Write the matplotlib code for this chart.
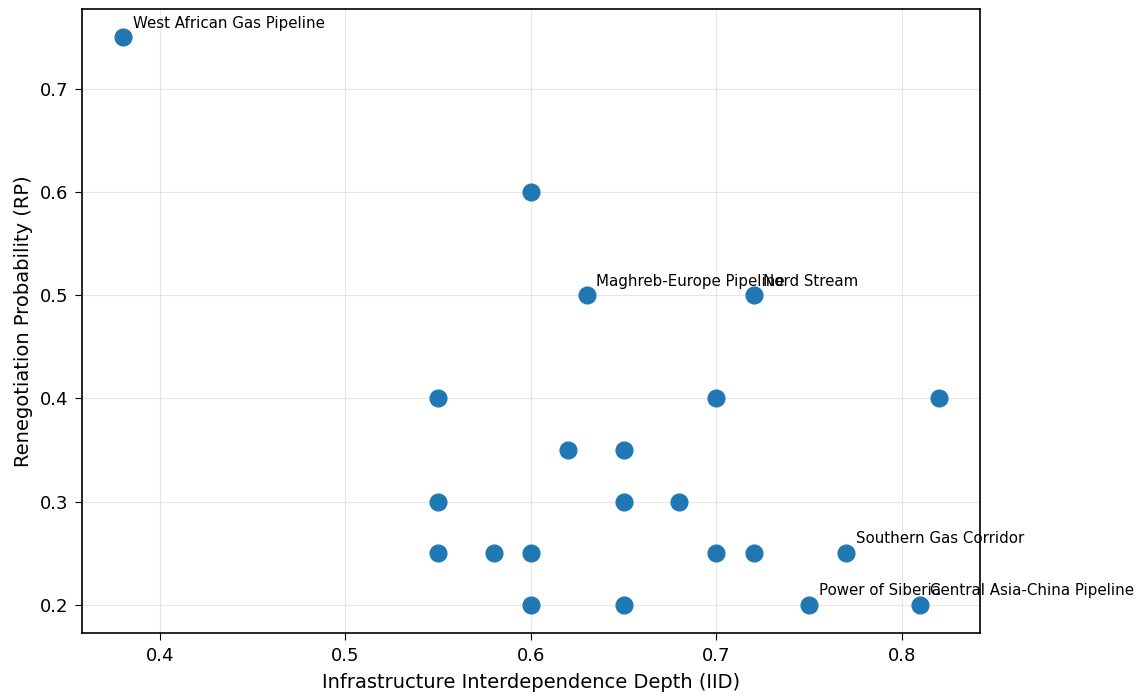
import matplotlib
matplotlib.use('Agg')
import matplotlib.pyplot as plt

iid = [0.38, 0.60, 0.63, 0.72, 0.55, 0.70, 0.82, 0.62, 0.65, 0.55, 0.65,
       0.68, 0.55, 0.58, 0.60, 0.70, 0.72, 0.77, 0.60, 0.65, 0.75, 0.81]
rp = [0.75, 0.60, 0.50, 0.50, 0.40, 0.40, 0.40, 0.35, 0.35, 0.30, 0.30,
      0.30, 0.25, 0.25, 0.25, 0.25, 0.25, 0.25, 0.20, 0.20, 0.20, 0.20]
labels = ['West African Gas Pipeline', '', 'Maghreb-Europe Pipeline', 'Nord Stream',
          '', '', '', '', '', '', '', '', '', '', '', '', '', 'Southern Gas Corridor',
          '', '', 'Power of Siberia', 'Central Asia-China Pipeline']

fig, ax = plt.subplots(figsize=(11.42, 6.95), dpi=100)
fig.subplots_adjust(left=0.0718, right=0.858, bottom=0.089, top=0.987)

ax.scatter(iid, rp, s=145, color='#1f77b4', zorder=3)
for x, y, lab in zip(iid, rp, labels):
    if lab:
        ax.annotate(lab, (x, y), xytext=(7, 7), textcoords='offset points', fontsize=10.8)

ax.grid(True, alpha=0.3)
ax.set_xlabel('Infrastructure Interdependence Depth (IID)', fontsize=14, labelpad=6)
ax.set_ylabel('Renegotiation Probability (RP)', fontsize=14, labelpad=5)
ax.tick_params(labelsize=13, length=5, pad=5)
for sp in ax.spines.values():
    sp.set_linewidth(1.2)

fig.savefig('out.png', dpi=100)
